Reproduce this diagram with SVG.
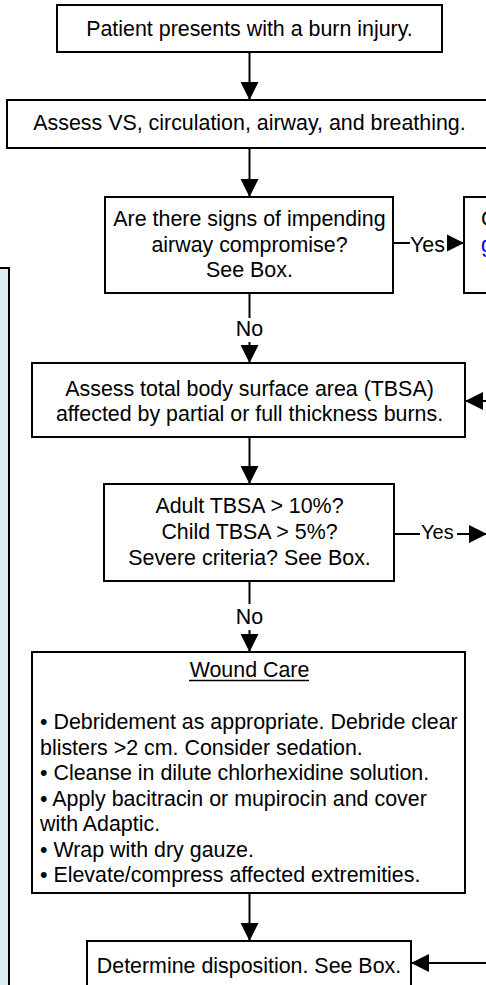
<svg xmlns="http://www.w3.org/2000/svg" width="486" height="985" viewBox="0 0 486 985">
<style>
.box{fill:#fff;stroke:#000;stroke-width:2}
.t{font-family:"Liberation Sans",Arial,sans-serif;font-size:21.4px;fill:#000}
.c{text-anchor:middle}
.conn{stroke:#000;stroke-width:2;fill:none}
.lbg{fill:#fff}
.link{fill:#0000EE;text-decoration:underline}
</style>
<defs>
<marker id="ah" viewBox="0 0 18 18" refX="18" refY="9" markerWidth="18" markerHeight="18" markerUnits="userSpaceOnUse" orient="auto">
<path d="M0,0 L18,9 L0,18 z" fill="#000"/>
</marker>
</defs>
<rect width="486" height="985" fill="#fff"/>
<g id="sidebox">
<rect x="-3" y="268" width="12" height="725" fill="#DAEEF3" stroke="#000" stroke-width="2"/>
</g>
<g id="connectors">
<path class="conn" d="M249.5,52 V100" marker-end="url(#ah)"/>
<path class="conn" d="M249.5,148 V197" marker-end="url(#ah)"/>
<path class="conn" d="M393,243 H464" marker-end="url(#ah)"/>
<path class="conn" d="M249.5,293 V363" marker-end="url(#ah)"/>
<path class="conn" d="M488,401 H465" marker-end="url(#ah)"/>
<path class="conn" d="M249.5,437 V484" marker-end="url(#ah)"/>
<path class="conn" d="M394,534 H487" marker-end="url(#ah)"/>
<path class="conn" d="M249.5,581 V652" marker-end="url(#ah)"/>
<path class="conn" d="M249.5,893 V941" marker-end="url(#ah)"/>
<path class="conn" d="M488,963 H411" marker-end="url(#ah)"/>
</g>
<g id="labels">
<rect class="lbg" x="410" y="232" width="37" height="24"/>
<text class="t" x="410" y="252">Yes</text>
<rect class="lbg" x="420" y="520" width="37" height="24"/>
<text class="t" x="421" y="539" style="font-size:20px">Yes</text>
<rect class="lbg" x="235" y="318" width="30" height="24"/>
<text class="t c" x="249.5" y="336">No</text>
<rect class="lbg" x="235" y="604" width="30" height="26"/>
<text class="t c" x="249.5" y="624">No</text>
</g>
<g id="n1">
<rect class="box" x="57" y="5" width="385" height="47"/>
<text class="t c" x="249.5" y="36">Patient presents with a burn injury.</text>
</g>
<g id="n2">
<rect class="box" x="7" y="100" width="490" height="48"/>
<text class="t c" x="249.5" y="130">Assess VS, circulation, airway, and breathing.</text>
</g>
<g id="n3">
<rect class="box" x="105" y="197" width="288" height="96"/>
<text class="t c" x="249.5" y="226">Are there signs of impending</text>
<text class="t c" x="249.5" y="252">airway compromise?</text>
<text class="t c" x="249.5" y="277">See Box.</text>
</g>
<g id="n4">
<rect class="box" x="464" y="197" width="40" height="96"/>
<text class="t" x="481" y="226">C</text>
<text class="t link" x="481" y="252">g</text>
</g>
<g id="n5">
<rect class="box" x="32" y="363" width="433" height="74"/>
<text class="t c" x="249.5" y="396">Assess total body surface area (TBSA)</text>
<text class="t c" x="249.5" y="421">affected by partial or full thickness burns.</text>
</g>
<g id="n6">
<rect class="box" x="104" y="484" width="290" height="97"/>
<text class="t c" x="249.5" y="513">Adult TBSA &gt; 10%?</text>
<text class="t c" x="249.5" y="539">Child TBSA &gt; 5%?</text>
<text class="t c" x="249.5" y="565">Severe criteria? See Box.</text>
</g>
<g id="n7">
<rect class="box" x="32" y="652" width="433" height="241"/>
<text class="t c" x="249.5" y="677">Wound Care</text>
<line x1="189" y1="680.5" x2="309" y2="680.5" stroke="#000" stroke-width="1.5"/>
<text class="t" x="40" y="729">• Debridement as appropriate. Debride clear</text>
<text class="t" x="40" y="754.5">blisters &gt;2 cm. Consider sedation.</text>
<text class="t" x="40" y="780">• Cleanse in dilute chlorhexidine solution.</text>
<text class="t" x="40" y="805.5">• Apply bacitracin or mupirocin and cover</text>
<text class="t" x="40" y="831">with Adaptic.</text>
<text class="t" x="40" y="856.5">• Wrap with dry gauze.</text>
<text class="t" x="40" y="882">• Elevate/compress affected extremities.</text>
</g>
<g id="n8">
<rect class="box" x="87" y="941" width="324" height="60"/>
<text class="t c" x="249" y="973">Determine disposition. See Box.</text>
</g>
</svg>
